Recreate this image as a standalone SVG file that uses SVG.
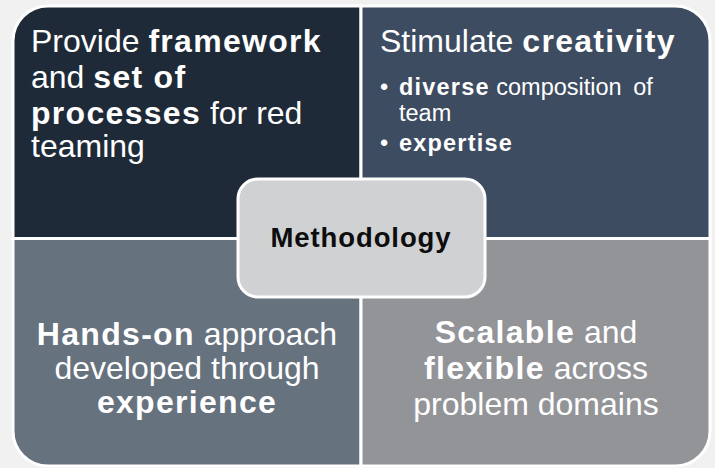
<svg xmlns="http://www.w3.org/2000/svg" width="715" height="468" viewBox="0 0 715 468">
  <style>
    .quad { stroke: #ffffff; stroke-width: 3; }
    .t { font-family: "Liberation Sans", Arial, sans-serif; fill: #ffffff; }
    .big { font-size: 32px; }
    .small { font-size: 23.5px; }
    .b { font-weight: bold; letter-spacing: 1.3px; }
    .small .b, .small.b { letter-spacing: 1.2px; }
    .mid { text-anchor: middle; }
    .hub { font-family: "Liberation Sans", Arial, sans-serif; font-size: 27.5px; font-weight: bold; letter-spacing: 0.9px; fill: #0d0d0d; text-anchor: middle; }
  </style>
  <rect x="0" y="0" width="715" height="468" fill="#f1f1f1"/>

  <!-- top-left quadrant -->
  <g id="framework">
    <path class="quad" d="M13,41 A35,35 0 0 1 48,6 H361 V238.5 H13 Z" fill="#1f2a38"/>
    <text class="t big" x="31" y="52">Provide <tspan class="b">framework</tspan></text>
    <text class="t big" x="31" y="88">and <tspan class="b">set of</tspan></text>
    <text class="t big" x="31" y="124"><tspan class="b">processes</tspan> for red</text>
    <text class="t big" x="31" y="157">teaming</text>
  </g>

  <!-- top-right quadrant -->
  <g id="creativity">
    <path class="quad" d="M361,6 H675 A35,35 0 0 1 710,41 V238.5 H361 Z" fill="#3d4c61"/>
    <text class="t big" x="380" y="52">Stimulate <tspan class="b">creativity</tspan></text>
    <text class="t small" x="380" y="95">•</text>
    <text class="t small" x="399" y="95"><tspan class="b">diverse</tspan> composition <tspan dx="5">of</tspan></text>
    <text class="t small" x="399" y="121">team</text>
    <text class="t small" x="380" y="151">•</text>
    <text class="t small b" x="399" y="151">expertise</text>
  </g>

  <!-- bottom-left quadrant -->
  <g id="hands-on">
    <path class="quad" d="M13,238.5 H361 V466 H48 A35,35 0 0 1 13,431 Z" fill="#67727f"/>
    <text class="t big mid" x="187" y="345"><tspan class="b">Hands-on</tspan> approach</text>
    <text class="t big mid" x="187" y="379">developed through</text>
    <text class="t big mid b" x="187" y="413">experience</text>
  </g>

  <!-- bottom-right quadrant -->
  <g id="scalable">
    <path class="quad" d="M361,238.5 H710 V431 A35,35 0 0 1 675,466 H361 Z" fill="#939498"/>
    <text class="t big mid" x="536" y="343"><tspan class="b">Scalable</tspan> and</text>
    <text class="t big mid" x="536" y="379"><tspan class="b">flexible</tspan> across</text>
    <text class="t big mid" x="536" y="415">problem domains</text>
  </g>

  <!-- central hub -->
  <g id="methodology">
    <rect x="238" y="179" width="247" height="118" rx="20" fill="#d0d1d3" stroke="#ffffff" stroke-width="3"/>
    <text class="hub" x="361" y="247">Methodology</text>
  </g>
</svg>
